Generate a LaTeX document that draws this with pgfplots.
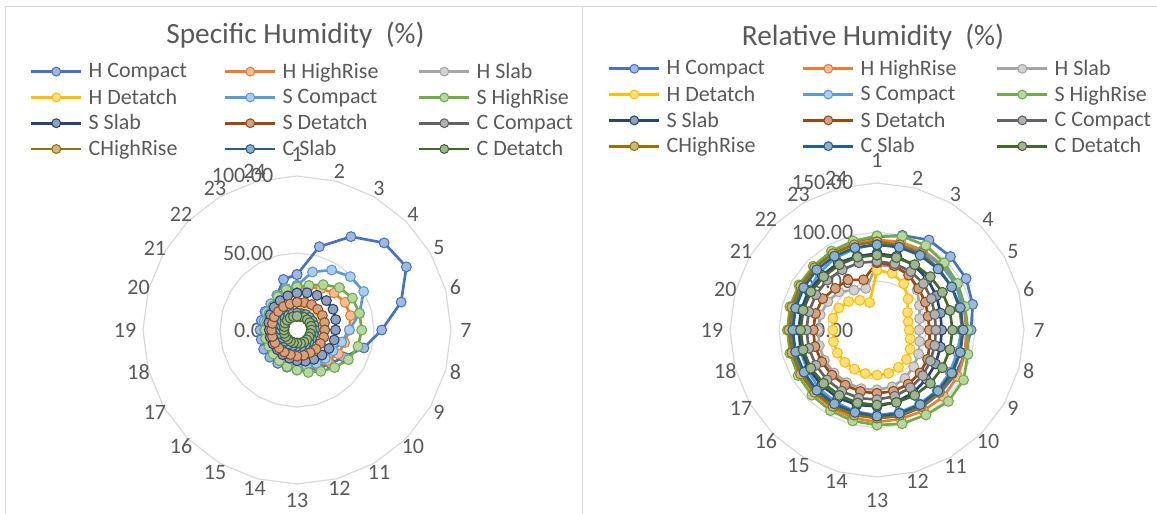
\documentclass[border=0pt]{standalone}
\usepackage{fontspec}
\setmainfont{Carlito}
\usepackage{pgfplots}
\pgfplotsset{compat=1.18}
\usepackage{pgfplotstable}
\usepgfplotslibrary{polar}

\definecolor{cHC}{HTML}{4472C4}
\definecolor{cHH}{HTML}{ED7D31}
\definecolor{cHS}{HTML}{A5A5A5}
\definecolor{cHD}{HTML}{FFC000}
\definecolor{cSC}{HTML}{5B9BD5}
\definecolor{cSH}{HTML}{70AD47}
\definecolor{cSS}{HTML}{264478}
\definecolor{cSD}{HTML}{9E480E}
\definecolor{cCC}{HTML}{636363}
\definecolor{cCH}{HTML}{997300}
\definecolor{cCS}{HTML}{255E91}
\definecolor{cCD}{HTML}{43682B}
\definecolor{tcol}{HTML}{595959}
\definecolor{cgrid}{HTML}{D9D9D9}

% Specific humidity: angle of hour k = 90-15(k-1)
\pgfplotstableread{
a HC HH HS HD SC SH SS SD CC CH CSl CD g50 g100
90 36 27 14 13 29 28 24 18 9 10 11 9 50 100
75 56 29 14 13 39 30 25 18.5 9 10 11 9 50 100
60 70 31 14.5 13.5 45 34 26 19 9.5 10.5 11.5 9.5 50 100
45 80 34 15 13.5 49 39 27 19 9.5 10.5 11.5 9.5 50 100
30 82 36 15 13.5 50 41.5 27 19 9.5 10.5 11.5 9.5 50 100
15 70 36 15 13.5 42 42 26 18.5 9.5 10.5 11.5 9.5 50 100
0 55 34 15 13.5 34 42 25 18 9.5 10.5 11.5 9.5 50 100
345 45 32 14.5 13 30 41 25 18 9 10 11 9 50 100
330 35 31 14 13 27 38.5 24 17.5 9 10 11 9 50 100
315 31 28 14 13 26 34.5 23 17.5 9 10 11 9 50 100
300 28 26 13.5 12.5 25 31 22 17 9 10 11 9 50 100
285 27 25 13.5 12.5 24 28.5 21 17 9 10 11 9 50 100
270 26 24 13 12.5 23 26 20 17 8.5 9.5 10.5 8.5 50 100
255 25 23 13 12.5 22 24.5 19 16.5 8.5 9.5 10.5 8.5 50 100
240 25 22 13 12.5 22 23 18.5 16.5 8.5 9.5 10.5 8.5 50 100
225 25 21 13 12.5 21 22 18 16.5 8.5 9.5 10.5 8.5 50 100
210 25 20 13 12.5 21 21 18 16.5 8.5 9.5 10.5 8.5 50 100
195 24 20 13 12.5 21 21 18 16.5 8.5 9.5 10.5 8.5 50 100
180 24 20 13 12.5 21 20.6 18 16.5 8.5 9.5 10.5 8.5 50 100
165 24 20 13 12.5 22 20.4 19 16.5 8.5 9.5 10.5 8.5 50 100
150 24 21 13.5 12.5 23 21 20 17 9 10 11 9 50 100
135 24 22 13.5 13 24 22 21 17 9 10 11 9 50 100
120 26 24 14 13 26 25 22 17.5 9 10 11 9 50 100
105 34 26 14 13 28 27 23 17.5 9 10 11 9 50 100
90 36 27 14 13 29 28 24 18 9 10 11 9 50 100
}\tsh

% Relative humidity
\pgfplotstableread{
a HC HH HS HD SC SH SS SD CC CH CSl CD g50 g100 g150
90 95 92 66 61 88 96 78 68.7 70 90 87 76.5 50 100 150
75 100 93 67 60 90 99 78 68 70 90 87.5 76.5 50 100 150
60 106 94 66 54.4 92 99.6 76 64.6 69 90 88 77 50 100 150
45 106 94 58 44.7 93 97 73 60 67 89 88 77 50 100 150
30 105 93 50 36 93 95 70 57 64 88 88 77 50 100 150
15 101 92 45 33 90 93 67 54 61 87 88 77 50 100 150
0 96 91 43 33 86 93 66 53.4 60 87 88 77 50 100 150
345 93 93 45 35 85 96 67 55.6 61 88 88 77 50 100 150
330 92 95 49 39 86 102 69 59.6 63 89 88 77 50 100 150
315 91 96 53 42.5 87 103 71 62 66 90 88 77 50 100 150
300 91 95 57 44 87 100 74 63.8 68 90 88 77 50 100 150
285 91 94 60 45.7 87 99 76 64.7 70 90 88 76.5 50 100 150
270 90 94 61 46 87 97 78 64.6 71 90 88 76.5 50 100 150
255 89 93 62 46 86 96 79 65 72 90 87 77 50 100 150
240 88 92 62 46 85 95 80 65 72 90 87 77 50 100 150
225 88 91 62 46.6 84 94 80 65 72 90 87 77 50 100 150
210 88 90 62 46.7 82 93 80 65 72 90 86 78 50 100 150
195 88 90 61 46 81 92 80 65.5 72 90 86 78 50 100 150
180 88 90 60 45 80 91.5 80 65 72 90 86 78 50 100 150
165 88 90 60 46.5 80 92 80 65 72 90 86 78 50 100 150
150 89 90 58 45 81 92 80 64 72 90 86.5 78 50 100 150
135 90 90 55 41 83 92 79 60 72 90 87 77 50 100 150
120 91 91 47 35 85 93 79 59 71 90 87 77 50 100 150
105 93 91 44 29 86 94 78 53 71 90 87 77 50 100 150
90 95 92 66 61 88 96 78 68.7 70 90 87 76.5 50 100 150
}\trh

\pgfplotsset{
  ser/.style={color=#1, line width=2pt, mark=*, mark size=3.7pt,
    mark options={fill=#1!50!white, draw=#1, line width=0.8pt, solid}},
  gridring/.style={draw=cgrid, line width=0.9pt, no marks, forget plot},
  base/.style={scale only axis, hide axis, clip=false, xmin=0, xmax=360, ymin=0},
  leg/.style={
    legend columns=3,
    legend cell align=left,
    legend style={draw=none, fill=none, inner sep=0pt, outer sep=0pt,
      font=\fontsize{16.5}{19.5}\selectfont, text=tcol,
      column sep=4.5pt, row sep=6.4pt,
      nodes={inner sep=0pt}},
    legend image code/.code={%
      \draw[##1, mark=none] (0pt,0pt) -- (37.5pt,0pt);
      \path[##1, mark=none, draw=., fill=.!50!white, line width=0.8pt, solid] (18.75pt,0pt) circle[radius=3.3pt];},
  },
}
\newcommand{\legent}[1]{\addlegendentry{\makebox[97pt][l]{#1}}}
\tikzset{
  lbl/.style={font=\fontsize{16.5}{19.5}\selectfont, text=tcol, inner sep=0pt},
}

\begin{document}
\begin{tikzpicture}
\path[use as bounding box] (0,0) rectangle (867.75pt,-385.5pt);
% chart borders
\draw[cgrid, line width=0.75pt] (3.75pt,-390pt) -- (3.75pt,-4.5pt) -- (870pt,-4.5pt);
\draw[cgrid, line width=0.75pt] (436.5pt,-4.5pt) -- (436.5pt,-390pt);
% titles
\node[anchor=base, text=tcol, font=\fontsize{22}{26}\selectfont, inner sep=0pt] at (221.6pt,-32.25pt) {Specific Humidity\ \ (\%)};
\node[anchor=base, text=tcol, font=\fontsize{22}{26}\selectfont, inner sep=0pt] at (654.75pt,-33.75pt) {Relative Humidity\ \ (\%)};

% grid axes
\begin{polaraxis}[base, at={(222.75pt,-247.5pt)}, anchor=center, width=231pt, height=231pt, ymax=100]
\addplot[gridring] table[x=a,y=g50]{\tsh};
\addplot[gridring] table[x=a,y=g100]{\tsh};
\end{polaraxis}
\begin{polaraxis}[base, at={(657.75pt,-247.5pt)}, anchor=center, width=220.5pt, height=220.5pt, ymax=150]
\addplot[gridring] table[x=a,y=g50]{\trh};
\addplot[gridring] table[x=a,y=g100]{\trh};
\addplot[gridring] table[x=a,y=g150]{\trh};
\end{polaraxis}

% value axis labels
\node[lbl, anchor=east] at (205.1pt,-247.5pt) {0.00};
\node[lbl, anchor=east] at (205.1pt,-189.75pt) {50.00};
\node[lbl, anchor=east] at (205.1pt,-131.25pt) {100.00};
\node[lbl, anchor=east] at (640.1pt,-247.5pt) {0.00};
\node[lbl, anchor=east] at (640.1pt,-210.75pt) {50.00};
\node[lbl, anchor=east] at (640.1pt,-174pt) {100.00};
\node[lbl, anchor=east] at (640.1pt,-136.5pt) {150.00};

% Specific humidity data
\begin{polaraxis}[base, leg, at={(222.75pt,-247.5pt)}, anchor=center, width=231pt, height=231pt, ymax=100,
  legend style={at={(-0.367,1.367)}, anchor=north west}]
\addplot[ser=cHC] table[x=a,y=HC]{\tsh}; \legent{H Compact}
\addplot[ser=cHH] table[x=a,y=HH]{\tsh}; \legent{H HighRise}
\addplot[ser=cHS] table[x=a,y=HS]{\tsh}; \legent{H Slab}
\addplot[ser=cHD] table[x=a,y=HD]{\tsh}; \legent{H Detatch}
\addplot[ser=cSC] table[x=a,y=SC]{\tsh}; \legent{S Compact}
\addplot[ser=cSH] table[x=a,y=SH]{\tsh}; \legent{S HighRise}
\addplot[ser=cSS] table[x=a,y=SS]{\tsh}; \legent{S Slab}
\addplot[ser=cSD] table[x=a,y=SD]{\tsh}; \legent{S Detatch}
\addplot[ser=cCC] table[x=a,y=CC]{\tsh}; \legent{C Compact}
\addplot[ser=cCH] table[x=a,y=CH]{\tsh}; \legent{CHighRise}
\addplot[ser=cCS] table[x=a,y=CSl]{\tsh}; \legent{C Slab}
\addplot[ser=cCD] table[x=a,y=CD]{\tsh}; \legent{C Detatch}
\end{polaraxis}

% Relative humidity data
\begin{polaraxis}[base, leg, at={(657.75pt,-247.5pt)}, anchor=center, width=220.5pt, height=220.5pt, ymax=150,
  legend style={at={(-0.415,1.418)}, anchor=north west}]
\addplot[ser=cHC] table[x=a,y=HC]{\trh}; \legent{H Compact}
\addplot[ser=cHH] table[x=a,y=HH]{\trh}; \legent{H HighRise}
\addplot[ser=cHS] table[x=a,y=HS]{\trh}; \legent{H Slab}
\addplot[ser=cHD] table[x=a,y=HD]{\trh}; \legent{H Detatch}
\addplot[ser=cSC] table[x=a,y=SC]{\trh}; \legent{S Compact}
\addplot[ser=cSH] table[x=a,y=SH]{\trh}; \legent{S HighRise}
\addplot[ser=cSS] table[x=a,y=SS]{\trh}; \legent{S Slab}
\addplot[ser=cSD] table[x=a,y=SD]{\trh}; \legent{S Detatch}
\addplot[ser=cCC] table[x=a,y=CC]{\trh}; \legent{C Compact}
\addplot[ser=cCH] table[x=a,y=CH]{\trh}; \legent{CHighRise}
\addplot[ser=cCS] table[x=a,y=CSl]{\trh}; \legent{C Slab}
\addplot[ser=cCD] table[x=a,y=CD]{\trh}; \legent{C Detatch}
\end{polaraxis}

% hour labels (centre distance = ring radius + offset)
\foreach \cx/\R/\oa/\ob in {222.75/115.5/16.5/12, 657.75/110.25/17.25/17.25}{
\begin{scope}[shift={(\cx pt,-247.5pt)}]
\foreach \h in {1,...,24}{
  \pgfmathsetmacro\ang{90-(\h-1)*15}
  \pgfmathsetmacro\off{(\h==1) ? \oa : ((\h==13) ? \ob : ((\h==7) ? 11.25 : ((\h==19) ? 13.5 : 7.5)))}
  \pgfmathsetmacro\d{\R+\off}
  \node[lbl, anchor=center] at (\ang:\d pt) {\h};
}
\end{scope}
}
\end{tikzpicture}
\end{document}
